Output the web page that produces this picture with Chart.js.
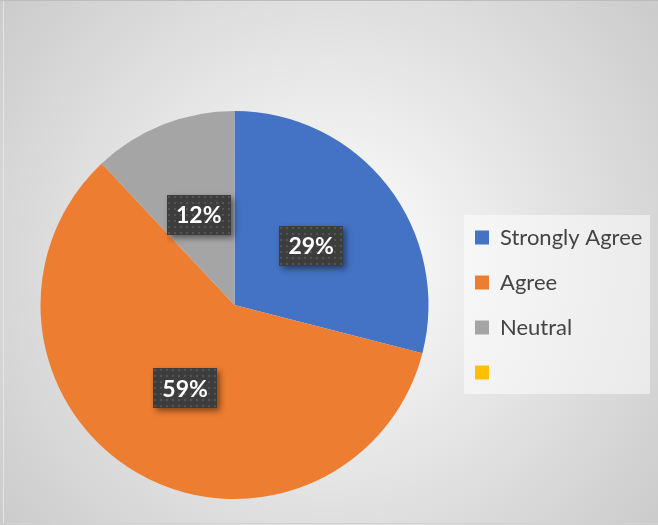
<!DOCTYPE html>
<html>
<head>
<meta charset="utf-8">
<script src="https://cdn.jsdelivr.net/npm/chart.js@4.4.1/dist/chart.umd.min.js"></script>
<style>
html,body{margin:0;padding:0;background:#fff;}
#wrap{width:658px;height:525px;position:relative;}
</style>
</head>
<body>
<div id="wrap"><canvas id="c"></canvas></div>
<script>
const categories = ['Strongly Agree', 'Agree', 'Neutral', ''];
const values = [29, 59, 12, 0];
const valueLabels = ['29%', '59%', '12%', ''];
const colors = ['#4472C4', '#ED7D31', '#A5A5A5', '#FFC000'];

const LEGEND_FONT = {family: 'Lato', size: 22};
const LEGEND_PAD = 23;
const BOX = 14;
const TARGET_LEGEND_LEFT = 452;

const bgPlugin = {
  id: 'bg',
  beforeDraw(chart) {
    const ctx = chart.ctx;
    const w = chart.width, h = chart.height;
    ctx.save();
    const g = ctx.createRadialGradient(w / 2, h / 2, 0, w / 2, h / 2, Math.sqrt(w * w + h * h) / 2);
    g.addColorStop(0, '#FFFFFF');
    g.addColorStop(1, '#CBCBCB');
    ctx.fillStyle = g;
    ctx.fillRect(0, 0, w, h);
    ctx.fillStyle = '#BDBDBD';
    ctx.fillRect(0, 0, w, 1);
    ctx.fillStyle = '#E4E4E4';
    ctx.fillRect(3, 1, 1, h - 2);
    ctx.fillStyle = '#D2D2D2';
    ctx.fillRect(3, h - 2, w - 3, 1);
    ctx.fillStyle = 'rgba(255,255,255,0.5)';
    ctx.fillRect(464, 215, 186, 179);
    ctx.restore();
  }
};

function makePattern(ctx) {
  const pc = document.createElement('canvas');
  pc.width = 6; pc.height = 6;
  const p = pc.getContext('2d');
  p.fillStyle = '#3D3D3D';
  p.fillRect(0, 0, 6, 6);
  p.fillStyle = '#545454';
  p.fillRect(1, 1, 2, 2);
  return ctx.createPattern(pc, 'repeat');
}

const labelPlugin = {
  id: 'valueLabels',
  afterDatasetsDraw(chart) {
    const ctx = chart.ctx;
    const meta = chart.getDatasetMeta(0);
    const pattern = makePattern(ctx);
    meta.data.forEach((arc, i) => {
      if (!values[i]) return;
      const pos = arc.tooltipPosition();
      const bw = 64, bh = 40;
      const x = Math.round(pos.x - bw / 2), y = Math.round(pos.y - bh / 2);
      ctx.save();
      ctx.shadowColor = 'rgba(0,0,0,0.45)';
      ctx.shadowBlur = 6;
      ctx.shadowOffsetX = 3;
      ctx.shadowOffsetY = 3;
      ctx.fillStyle = '#3D3D3D';
      ctx.fillRect(x, y, bw, bh);
      ctx.restore();
      ctx.save();
      ctx.fillStyle = pattern;
      ctx.translate(x, y);
      ctx.fillRect(0, 0, bw, bh);
      ctx.restore();
      ctx.save();
      ctx.fillStyle = '#FFFFFF';
      ctx.font = 'bold 23px Lato';
      ctx.textAlign = 'center';
      ctx.textBaseline = 'middle';
      ctx.fillText(valueLabels[i], pos.x, pos.y + 1);
      ctx.restore();
    });
  }
};

const chart = new Chart(document.getElementById('c'), {
  type: 'pie',
  data: {
    labels: categories,
    datasets: [{
      data: values,
      backgroundColor: colors,
      borderWidth: 0
    }]
  },
  options: {
    responsive: true,
    maintainAspectRatio: false,
    animation: false,
    layout: {padding: {top: 111, bottom: 26, left: 17, right: 0}},
    plugins: {
      tooltip: {enabled: false},
      legend: {
        position: 'right',
        align: 'center',
        labels: {
          boxWidth: BOX,
          boxHeight: BOX,
          padding: LEGEND_PAD,
          color: '#444444',
          font: LEGEND_FONT
        }
      }
    }
  },
  plugins: [bgPlugin, labelPlugin]
});
// shift legend so the pie area spans the wanted width
const delta = TARGET_LEGEND_LEFT - chart.legend.left;
chart.options.layout.padding.right = Math.max(0, -delta);
chart.update();
const delta2 = TARGET_LEGEND_LEFT - chart.legend.left;
if (Math.abs(delta2) >= 1) {
  chart.options.layout.padding.right = Math.max(0, chart.options.layout.padding.right - delta2);
  chart.update();
}
</script>
</body>
</html>
